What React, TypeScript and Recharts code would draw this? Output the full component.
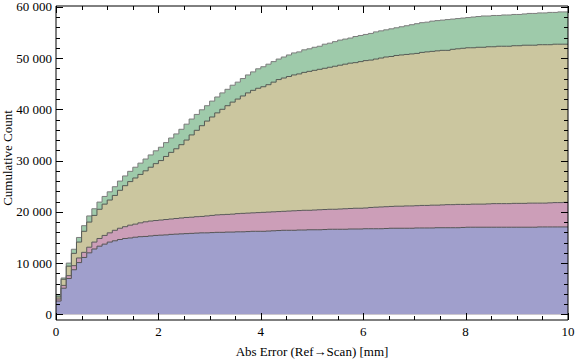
import React from "react";
import { ComposedChart, Area, XAxis, YAxis, ReferenceLine } from "recharts";

// cumulative count tops of each stacked layer, one value per 0.1 mm bin (0.0 .. 9.9)
const blueTop = [
  2600, 5100, 7000, 8700, 10100, 11100, 12000, 12750, 13300, 13700,
  14100, 14350, 14600, 14800, 14900, 15050, 15150, 15200, 15300, 15400,
  15450, 15500, 15600, 15650, 15700, 15750, 15800, 15850, 15900, 15900,
  15950, 16000, 16000, 16050, 16050, 16100, 16100, 16150, 16200, 16200,
  16200, 16250, 16300, 16350, 16400, 16400, 16400, 16450, 16450, 16500,
  16500, 16500, 16550, 16600, 16600, 16600, 16600, 16650, 16650, 16650,
  16700, 16700, 16700, 16700, 16750, 16800, 16800, 16800, 16800, 16800,
  16850, 16850, 16850, 16850, 16900, 16900, 16900, 16900, 16900, 16950,
  17000, 17000, 17000, 17000, 17000, 17000, 17000, 17000, 17000, 17000,
  17000, 17000, 17000, 17000, 17050, 17050, 17050, 17050, 17050, 17050,
];

const pinkTop = [
  3000, 5650, 7550, 9500, 11000, 12100, 13100, 14100, 14800, 15400,
  15900, 16400, 16800, 17100, 17400, 17600, 17850, 18050, 18200, 18300,
  18400, 18500, 18600, 18700, 18800, 18900, 18950, 19050, 19100, 19200,
  19300, 19400, 19450, 19500, 19550, 19650, 19700, 19750, 19800, 19850,
  19900, 19950, 20000, 20050, 20100, 20150, 20200, 20250, 20300, 20300,
  20350, 20400, 20450, 20500, 20500, 20550, 20600, 20650, 20700, 20700,
  20750, 20850, 20900, 20950, 21000, 21050, 21100, 21100, 21150, 21150,
  21200, 21250, 21250, 21300, 21300, 21350, 21400, 21400, 21450, 21450,
  21450, 21500, 21500, 21500, 21550, 21600, 21600, 21600, 21600, 21650,
  21650, 21650, 21700, 21700, 21700, 21700, 21750, 21800, 21800, 21850,
];

const oliveTop = [
  3400, 6850, 9400, 11900, 14100, 16200, 18000, 19300, 20500, 21500,
  22300, 23200, 24200, 25100, 25900, 26600, 27300, 28000, 28700, 29400,
  30000, 30800, 31600, 32300, 33100, 34000, 35000, 35900, 36800, 37700,
  38500, 39300, 40000, 40700, 41400, 42000, 42600, 43200, 43700, 44100,
  44400, 44800, 45300, 45800, 46100, 46400, 46700, 46900, 47200, 47400,
  47600, 47800, 48000, 48200, 48400, 48600, 48800, 49000, 49100, 49300,
  49500, 49600, 49800, 50000, 50200, 50300, 50500, 50600, 50700, 50800,
  50900, 51100, 51200, 51300, 51400, 51500, 51500, 51700, 51800, 51900,
  52000, 52000, 52100, 52100, 52200, 52200, 52300, 52300, 52300, 52400,
  52400, 52500, 52500, 52500, 52600, 52600, 52600, 52700, 52700, 52700,
];

const greenTop = [
  3800, 7100, 10000, 12700, 15000, 17300, 19200, 20600, 21900, 23000,
  23900, 24900, 26000, 27000, 27900, 28700, 29500, 30300, 31100, 31900,
  32600, 33500, 34400, 35200, 36100, 37100, 38100, 39000, 39900, 40700,
  41600, 42400, 43200, 43900, 44700, 45300, 46000, 46700, 47300, 47900,
  48300, 48800, 49300, 49800, 50200, 50600, 51000, 51200, 51600, 51800,
  52100, 52300, 52700, 52900, 53200, 53500, 53700, 53900, 54200, 54400,
  54600, 54800, 55100, 55300, 55500, 55700, 55900, 56100, 56300, 56500,
  56700, 56900, 57000, 57200, 57300, 57400, 57500, 57600, 57700, 57800,
  57900, 58000, 58100, 58200, 58200, 58300, 58300, 58400, 58400, 58500,
  58500, 58600, 58700, 58700, 58800, 58800, 58900, 58900, 59000, 59000,
];

const xTicks = [0, 0.5, 1, 1.5, 2, 2.5, 3, 3.5, 4, 4.5, 5, 5.5, 6, 6.5, 7, 7.5, 8, 8.5, 9, 9.5, 10];
const yMajor = [0, 10000, 20000, 30000, 40000, 50000, 60000];
const yTicks: number[] = [];
for (let v = 0; v <= 60000; v += 2000) yTicks.push(v);

// one point per bin edge; the last edge (10) repeats the final bin so the step reaches the frame
const data = Array.from({ length: 101 }, (_, i) => {
  const k = Math.min(i, 99);
  return {
    x: i / 10,
    blue: blueTop[k],
    pink: pinkTop[k],
    olive: oliveTop[k],
    green: greenTop[k],
  };
});

const L = 56;
const R = 568;
const T = 6;
const B = 320;
const FONT = "'Liberation Serif', 'Times New Roman', serif";

const fmt = (v: number) => (v === 0 ? "0" : `${v / 1000} 000`);

const YTick = (props: any) => {
  const { y, payload } = props;
  const major = yMajor.includes(payload.value);
  const len = major ? 7 : 4;
  const yy = Math.round(y) + 0.5;
  return (
    <g>
      <line x1={L} x2={L + len} y1={yy} y2={yy} stroke="#000" />
      <line x1={R - len} x2={R} y1={yy} y2={yy} stroke="#000" />
      {major && (
        <text x={52} y={y + 4.5} textAnchor="end" fontFamily={FONT} fontSize={13} fill="#000">
          {fmt(payload.value)}
        </text>
      )}
    </g>
  );
};

const XTick = (props: any) => {
  const { x, payload } = props;
  const major = payload.value % 2 === 0;
  const len = major ? 7 : 4;
  const xx = Math.round(x) + 0.5;
  return (
    <g>
      <line x1={xx} x2={xx} y1={B} y2={B - len} stroke="#000" />
      <line x1={xx} x2={xx} y1={T} y2={T + len} stroke="#000" />
      {major && (
        <text x={x} y={336} textAnchor="middle" fontFamily={FONT} fontSize={13} fill="#000">
          {payload.value}
        </text>
      )}
    </g>
  );
};

export default function App() {
  return (
    <div style={{ position: "absolute", left: 0, top: 0, width: 576, height: 361, background: "#fff" }}>
      <ComposedChart
        width={576}
        height={361}
        data={data}
        margin={{ top: T, right: 576 - R, bottom: 0, left: 0 }}
      >
        <XAxis
          dataKey="x"
          type="number"
          domain={[0, 10]}
          allowDataOverflow
          ticks={xTicks}
          interval={0}
          tick={<XTick />}
          tickLine={false}
          axisLine={{ stroke: "#000" }}
          height={361 - B}
        />
        <YAxis
          type="number"
          domain={[-1100, 60150]}
          allowDataOverflow
          ticks={yTicks}
          interval={0}
          tick={<YTick />}
          tickLine={false}
          axisLine={{ stroke: "#000" }}
          width={L}
        />
        <Area type="stepAfter" dataKey="green" stroke="#7c7c7c" strokeWidth={1} fill="#9ecaaa" fillOpacity={1} dot={false} activeDot={false} isAnimationActive={false} />
        <Area type="stepAfter" dataKey="olive" stroke="#555a55" strokeWidth={1} fill="#cbc69f" fillOpacity={1} dot={false} activeDot={false} isAnimationActive={false} />
        <Area type="stepAfter" dataKey="pink" stroke="#5a5a5a" strokeWidth={1} fill="#cc9eb8" fillOpacity={1} dot={false} activeDot={false} isAnimationActive={false} />
        <Area type="stepAfter" dataKey="blue" stroke="#555555" strokeWidth={1} fill="#a09fcc" fillOpacity={1} dot={false} activeDot={false} isAnimationActive={false} />
        <ReferenceLine x={10} stroke="#000" />
        <ReferenceLine y={60150} stroke="#000" />
      </ComposedChart>
      <div
        style={{
          position: "absolute",
          left: 8,
          top: 158,
          transform: "translate(-50%, -50%) rotate(-90deg)",
          fontFamily: FONT,
          fontSize: 13,
          whiteSpace: "nowrap",
          color: "#000",
        }}
      >
        Cumulative Count
      </div>
      <div
        style={{
          position: "absolute",
          left: 312,
          top: 352,
          transform: "translate(-50%, -50%)",
          fontFamily: FONT,
          fontSize: 13,
          whiteSpace: "nowrap",
          color: "#000",
        }}
      >
        Abs Error (Ref→Scan) [mm]
      </div>
    </div>
  );
}
